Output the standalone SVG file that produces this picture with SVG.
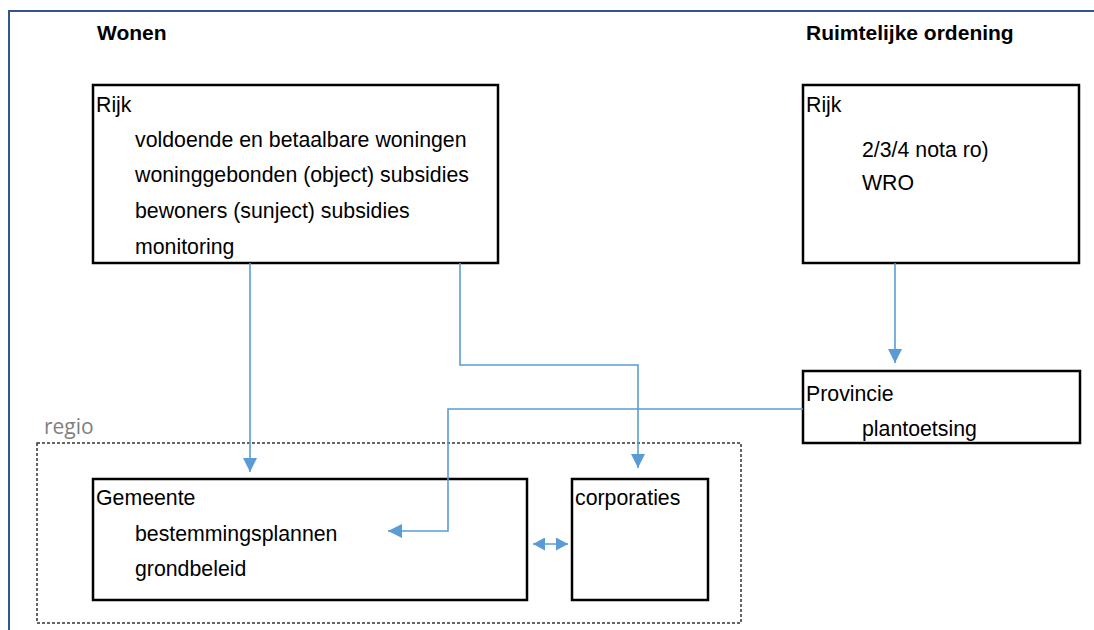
<svg xmlns="http://www.w3.org/2000/svg" width="1094" height="630" viewBox="0 0 1094 630">
<defs>
<style>
.t{font-family:"Liberation Sans",Arial,sans-serif;font-size:21.3px;fill:#000}
.h{font-family:"Liberation Sans",Arial,sans-serif;font-size:21px;font-weight:bold;fill:#000}
.box{fill:#fff;stroke:#000;stroke-width:2.5}
.c{fill:none;stroke:#5B9BD5;stroke-width:1.6}
</style>
<marker id="ah" markerUnits="userSpaceOnUse" viewBox="0 0 14 14" refX="14" refY="7" markerWidth="14" markerHeight="14" orient="auto">
<path d="M0,0 L14,7 L0,14 z" fill="#5B9BD5"/>
</marker>
<marker id="ahs" markerUnits="userSpaceOnUse" viewBox="0 0 12 13" refX="12" refY="6.5" markerWidth="12" markerHeight="13" orient="auto-start-reverse">
<path d="M0,0 L12,6.5 L0,13 z" fill="#5B9BD5"/>
</marker>
</defs>
<rect width="1094" height="630" fill="#fff"/>
<path d="M9,630 V11 H1094" fill="none" stroke="#2F5597" stroke-width="2"/>
<text class="h" x="97" y="40">Wonen</text>
<text class="h" x="806" y="40">Ruimtelijke ordening</text>
<g id="regio">
<rect x="37" y="443" width="704" height="180" fill="none" stroke="#333" stroke-width="1.5" stroke-dasharray="3,2"/>
<text x="44" y="434" font-family="'Open Sans',sans-serif" font-size="21" fill="#7F7F7F">regio</text>
</g>
<g id="rijk-wonen">
<rect class="box" x="93" y="85" width="405" height="178"/>
<text class="t" x="96" y="112">Rijk</text>
<text class="t" x="135" y="147">voldoende en betaalbare woningen</text>
<text class="t" x="135" y="182">woninggebonden (object) subsidies</text>
<text class="t" x="135" y="218">bewoners (sunject) subsidies</text>
<text class="t" x="135" y="254">monitoring</text>
</g>
<g id="rijk-ro">
<rect class="box" x="803" y="85" width="276" height="178"/>
<text class="t" x="806" y="112">Rijk</text>
<text class="t" x="862" y="157">2/3/4 nota ro)</text>
<text class="t" x="862" y="190">WRO</text>
</g>
<g id="provincie">
<rect class="box" x="803" y="371" width="277" height="72"/>
<text class="t" x="806" y="401">Provincie</text>
<text class="t" x="862" y="436">plantoetsing</text>
</g>
<g id="gemeente">
<rect class="box" x="93" y="479" width="434" height="121"/>
<text class="t" x="96" y="505">Gemeente</text>
<text class="t" x="135" y="541">bestemmingsplannen</text>
<text class="t" x="135" y="576">grondbeleid</text>
</g>
<g id="corporaties">
<rect class="box" x="572" y="479" width="136" height="121"/>
<text class="t" x="575" y="505">corporaties</text>
</g>
<g id="connectors">
<path class="c" d="M250,263 V472" marker-end="url(#ah)"/>
<path class="c" d="M460,263 V365 H638 V468" marker-end="url(#ah)"/>
<path class="c" d="M895,263 V363" marker-end="url(#ah)"/>
<path class="c" d="M803,409 H448 V531 H388" marker-end="url(#ah)"/>
<path class="c" d="M533,544 H568" marker-start="url(#ahs)" marker-end="url(#ahs)"/>
</g>
</svg>
